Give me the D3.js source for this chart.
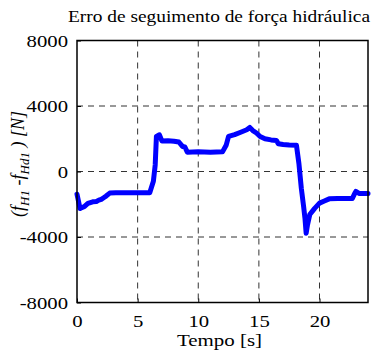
<!DOCTYPE html>
<html>
<head>
<meta charset="utf-8">
<script src="https://cdn.jsdelivr.net/npm/d3@7"></script>
<style>
  body { margin: 0; background: #fff; }
</style>
</head>
<body>
<div id="chart"></div>
<script>
// force tracking error
var tempo = [0, 0.25, 0.4, 0.6, 0.9, 1.1, 1.3, 1.6, 1.8, 2.0, 2.2, 2.4, 2.7, 3.2, 4.0, 5.0, 6.0, 6.3, 6.45, 6.55, 6.8, 7.0, 7.5, 8.0, 8.4, 8.7, 8.9, 9.1, 10.0, 11.0, 12.0, 12.3, 12.5, 13.0, 13.5, 14.0, 14.25, 14.5, 14.8, 15.1, 15.5, 16.0, 16.45, 16.6, 17.0, 17.5, 18.1, 18.3, 18.5, 18.7, 18.8, 18.9, 19.0, 19.2, 19.6, 20.0, 20.4, 20.8, 21.5, 22.0, 22.7, 22.9, 23.0, 23.3, 24.0];
var erro = [-1385, -2260, -2200, -2150, -1950, -1900, -1850, -1830, -1750, -1700, -1600, -1500, -1320, -1300, -1300, -1300, -1300, -600, 400, 2140, 2240, 1870, 1880, 1850, 1800, 1530, 1500, 1180, 1200, 1180, 1200, 1600, 2140, 2250, 2400, 2550, 2690, 2500, 2350, 2140, 2000, 1930, 1900, 1700, 1650, 1620, 1600, 500, -1020, -2200, -2850, -3770, -3300, -2630, -2250, -1930, -1800, -1670, -1650, -1650, -1650, -1350, -1220, -1350, -1350];

var xTicks = [0, 5, 10, 15, 20];
var yTicks = [-8000, -4000, 0, 4000, 8000];

var W = 377, H = 350;
var FONT = "'Liberation Serif', 'Times New Roman', serif";
var stretch = 1.22;   // the reference text is drawn a bit wide

var margin = {top: 40.5, right: 9, bottom: 47.5, left: 77},
    width = W - margin.left - margin.right,
    height = H - margin.top - margin.bottom;

var x = d3.scaleLinear().domain([0, 24]).range([0, width]),
    y = d3.scaleLinear().domain([-8000, 8000]).range([height, 0]);

var svg = d3.select("#chart")
    .append("svg")
        .attr("width", W)
        .attr("height", H)
        .attr("font-family", FONT)
    .append("g")
        .attr("transform", "translate(" + margin.left + "," + margin.top + ")");

// grid
svg.append("g")
    .selectAll("line")
    .data(xTicks.filter(function(d) { return d > 0; }))
    .enter()
    .append("line")
        .attr("x1", x).attr("x2", x)
        .attr("y1", 0).attr("y2", height)
        .style("stroke", "#333")
        .style("stroke-width", 1)
        .style("stroke-dasharray", "6,5");

svg.append("g")
    .selectAll("line")
    .data(yTicks.filter(function(d) { return d > -8000 && d < 8000; }))
    .enter()
    .append("line")
        .attr("x1", 0).attr("x2", width)
        .attr("y1", y).attr("y2", y)
        .style("stroke", "#333")
        .style("stroke-width", 1)
        .style("stroke-dasharray", "6,5");

// axes
var xAxis = svg.append("g")
    .attr("transform", "translate(0," + height + ")")
    .call(d3.axisBottom(x).tickValues(xTicks).tickSize(-4).tickFormat(function(d) { return String(d); }));
var yAxis = svg.append("g")
    .call(d3.axisLeft(y).tickValues(yTicks).tickSize(-4).tickFormat(function(d) { return String(d); }));

[xAxis, yAxis].forEach(function(a) {
    a.attr("font-family", FONT).attr("font-size", 17);
    a.select(".domain").remove();
    a.selectAll("line").style("stroke", "#000");
    a.selectAll("text").style("fill", "#000")
        .attr("transform", "scale(" + stretch + ",1)");
});
xAxis.selectAll("text").attr("y", 24.5).attr("dy", 0);
yAxis.selectAll("text").attr("x", -9 / stretch).attr("dy", "0.33em");

// the curve
var line = d3.line()
    .x(function(d, i) { return x(tempo[i]); })
    .y(function(d) { return y(d); });

svg.append("path")
    .datum(erro)
    .attr("d", line)
    .style("fill", "none")
    .style("stroke", "#0000ff")
    .style("stroke-width", 5)
    .style("stroke-linejoin", "round")
    .style("stroke-linecap", "round");

// frame
svg.append("rect")
    .attr("width", width)
    .attr("height", height)
    .style("fill", "none")
    .style("stroke", "#000")
    .style("stroke-width", 1.5);

// title
svg.append("text")
    .attr("x", 68 - margin.left)
    .attr("y", 21.5 - margin.top)
    .attr("textLength", 302)
    .attr("lengthAdjust", "spacingAndGlyphs")
    .style("font-size", "17px")
    .text("Erro de seguimento de força hidráulica");

// x label
svg.append("text")
    .attr("x", 177 - margin.left)
    .attr("y", height + 43.5)
    .attr("textLength", 85)
    .attr("lengthAdjust", "spacingAndGlyphs")
    .style("font-size", "17px")
    .text("Tempo [s]");

// y label
var yl = svg.append("text")
    .attr("transform", "translate(" + (24 - margin.left) + "," + (164 - margin.top) + ") rotate(-90)")
    .attr("text-anchor", "middle")
    .style("font-size", "18px")
    .style("font-style", "italic");
yl.append("tspan").text("(");
yl.append("tspan").text("f");
yl.append("tspan").attr("dy", 5).style("font-size", "13px").text("H1");
yl.append("tspan").attr("dy", -5).text(" -");
yl.append("tspan").text("f");
yl.append("tspan").attr("dy", 5).style("font-size", "13px").text("Hd1");
yl.append("tspan").attr("dy", -5).text(" ) [N]");
</script>
</body>
</html>
